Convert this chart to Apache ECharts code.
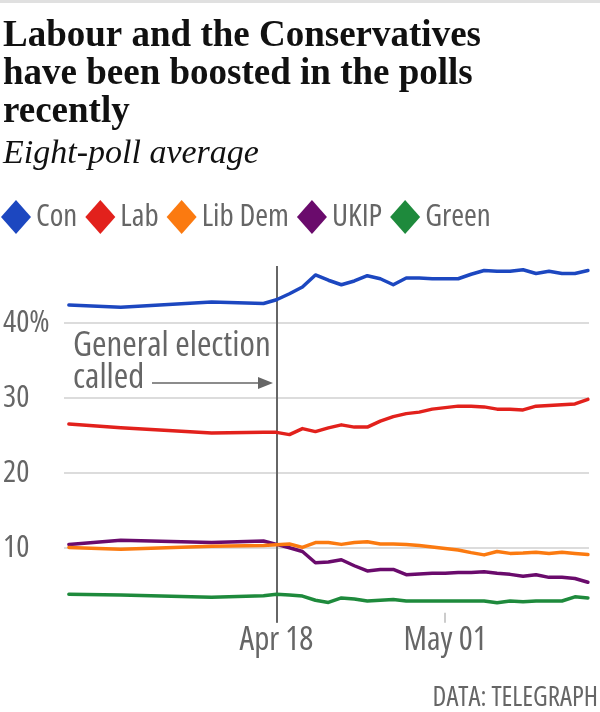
<!DOCTYPE html>
<html>
<head>
<meta charset="utf-8">
<script src="https://cdn.jsdelivr.net/npm/echarts@6/dist/echarts.min.js"></script>
<style>
html,body{margin:0;padding:0;background:#fff;}
#chart{width:600px;height:712px;}
</style>
</head>
<body>
<div id="chart"></div>
<script>
var dates = ['2017-04-02','2017-04-06','2017-04-13','2017-04-17','2017-04-18','2017-04-19','2017-04-20','2017-04-21','2017-04-22','2017-04-23','2017-04-24','2017-04-25','2017-04-26','2017-04-27','2017-04-28','2017-04-29','2017-04-30','2017-05-01','2017-05-02','2017-05-03','2017-05-04','2017-05-05','2017-05-06','2017-05-07','2017-05-08','2017-05-09','2017-05-10','2017-05-11','2017-05-12'];
var con   = [42.4,42.1,42.8,42.6,43.1,43.9,44.8,46.4,45.7,45.1,45.6,46.3,45.9,45.1,46.0,46.0,45.9,45.9,45.9,46.5,47.0,46.9,46.9,47.1,46.6,46.9,46.6,46.6,47.0];
var lab   = [26.5,26.0,25.3,25.4,25.4,25.1,25.9,25.5,26.0,26.4,26.1,26.1,26.9,27.5,27.9,28.1,28.5,28.7,28.9,28.9,28.8,28.5,28.5,28.4,28.9,29.0,29.1,29.2,29.8];
var libDem= [10.05,9.8,10.2,10.3,10.4,10.5,10.05,10.7,10.7,10.45,10.7,10.8,10.5,10.5,10.45,10.3,10.1,9.9,9.7,9.35,9.05,9.5,9.25,9.3,9.4,9.25,9.4,9.25,9.1];
var ukip  = [10.45,11.0,10.7,10.9,10.45,10.0,9.5,8.0,8.1,8.4,7.6,6.9,7.1,7.1,6.4,6.5,6.6,6.6,6.7,6.7,6.8,6.6,6.45,6.2,6.4,6.05,6.05,5.9,5.4];
var green = [3.8,3.7,3.4,3.6,3.8,3.7,3.55,3.0,2.7,3.3,3.15,2.9,3.0,3.1,2.9,2.9,2.9,2.9,2.9,2.9,2.9,2.65,2.9,2.8,2.9,2.9,2.9,3.45,3.3];

var seriesNames = ['Con','Lab','Lib Dem','UKIP','Green'];
var seriesColors = ['#1c47c0','#e2211c','#fb7a10','#6a0b6c','#1e8a3c'];
var yTickValues = [10,20,30,40];
var yTickLabels = ['10','20','30','40%'];
var xTickDates = ['2017-04-18','2017-05-01'];
var xTickLabels = ['Apr 18','May 01'];
var eventDate = '2017-04-18';
var eventLabel = 'General election\ncalled';
var titleText = 'Labour and the Conservatives\nhave been boosted in the polls\nrecently';
var subtitleText = 'Eight-poll average';
var sourceText = 'DATA: TELEGRAPH';

function ts(d){ var p = d.split('-'); return Date.UTC(+p[0], +p[1]-1, +p[2]); }
var HOUR = 3600000;
var xMin = ts('2017-04-01') + 15*HOUR;
var xMax = ts('2017-05-12') + 2*HOUR;
var xTickTs = xTickDates.map(ts);

var sans = '"Open Sans","Roboto",sans-serif';
var narrow = 'condensed';
var serif = '"Liberation Serif","DejaVu Serif",serif';

var valuesList = [con, lab, libDem, ukip, green];
var series = seriesNames.map(function(name, i){
  return {
    name: name, type: 'line', showSymbol: false, symbol: 'none',
    data: dates.map(function(d, j){ return [ts(d), valuesList[i][j]]; }),
    lineStyle: {color: seriesColors[i], width: 3.5, join: 'round', cap: 'round'},
    itemStyle: {color: seriesColors[i]},
    z: 10 - i, silent: true
  };
});
series[0].markLine = {
  silent: true, symbol: 'none', label: {show: false}, animation: false,
  data: yTickValues.map(function(v){ return {yAxis: v, lineStyle: {color: '#dcdcdc', width: 2, type: 'solid'}}; })
    .concat([{xAxis: ts(eventDate), lineStyle: {color: '#666', width: 2, type: 'solid'}}])
};

var chart = echarts.init(document.getElementById('chart'), null, {renderer: 'canvas'});
chart.setOption({
  animation: false,
  backgroundColor: '#fff',
  title: [
    {text: titleText, left: 3, top: 17, padding: 0,
     textStyle: {fontFamily: serif, fontWeight: 'bold', fontSize: 37, lineHeight: 38, color: '#111'}},
    {text: subtitleText, left: 3, top: 137, padding: 0,
     textStyle: {fontFamily: serif, fontStyle: 'italic', fontWeight: 'normal', fontSize: 34, color: '#111'}},
    {text: sourceText, right: 2, bottom: 0, padding: 0,
     textStyle: {fontFamily: sans, fontWeight: narrow, fontSize: 27, color: '#666'}}
  ],
  legend: {
    left: 1, top: 200, padding: 0, icon: 'diamond', itemWidth: 30, itemHeight: 34, itemGap: 8,
    selectedMode: false,
    textStyle: {fontFamily: sans, fontWeight: narrow, fontSize: 31, color: '#666', padding: [0,0,0,0]},
    data: seriesNames
  },
  grid: {left: 64, right: 11, top: 266, bottom: 89.3, containLabel: false},
  xAxis: {
    type: 'value', min: xMin, max: xMax,
    axisLine: {show: false},
    splitLine: {show: false},
    axisTick: {show: true, inside: true, length: 10, lineStyle: {color: '#cccccc', width: 2},
      customValues: xTickTs},
    axisLabel: {
      customValues: xTickTs,
      margin: 1, fontFamily: sans, fontWeight: narrow, fontSize: 33, color: '#666',
      formatter: function(v){ var k = xTickTs.indexOf(v); return k >= 0 ? xTickLabels[k] : ''; }
    }
  },
  yAxis: {
    type: 'value', min: 0, max: 47.6,
    axisLine: {show: false}, axisTick: {show: false}, splitLine: {show: false},
    axisLabel: {
      customValues: yTickValues, align: 'left', margin: 61,
      fontFamily: sans, fontWeight: narrow, fontSize: 31, color: '#666',
      formatter: function(v){ var k = yTickValues.indexOf(v); return k >= 0 ? yTickLabels[k] : ''; }
    }
  },
  graphic: [
    {type: 'rect', left: 0, top: 0, shape: {width: 600, height: 3}, style: {fill: '#e0e0e0'}},
    {type: 'text', left: 73, top: 329, style: {text: eventLabel, font: 'condensed 35px ' + sans, fill: '#666', lineHeight: 32}},
    {type: 'line', shape: {x1: 152, y1: 383, x2: 262, y2: 383}, style: {stroke: '#666', lineWidth: 1.5}},
    {type: 'polygon', shape: {points: [[273,383],[258,377],[258,389]]}, style: {fill: '#666'}}
  ],
  series: series
});
</script>
</body>
</html>
